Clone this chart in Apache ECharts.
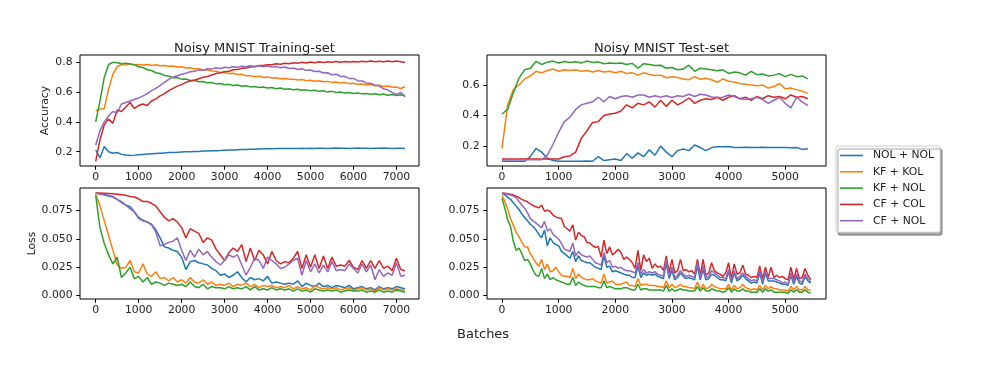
<!DOCTYPE html>
<html>
<head>
<meta charset="utf-8">
<script src="https://cdn.jsdelivr.net/npm/echarts@6/dist/echarts.min.js"></script>
<style>
  html, body { margin: 0; padding: 0; background: #fff; }
  #chart { width: 1000px; height: 375px; }
</style>
</head>
<body>
<div id="chart"></div>
<script>
const seriesNames = ['NOL + NOL', 'KF + KOL', 'KF + NOL', 'CF + COL', 'CF + NOL'];
const seriesColors = ['#1f77b4', '#ff7f0e', '#2ca02c', '#d62728', '#9467bd'];

const trainXTicks = [0, 1000, 2000, 3000, 4000, 5000, 6000, 7000];
const testXTicks = [0, 1000, 2000, 3000, 4000, 5000];
const trainAccTicks = [0.2, 0.4, 0.6, 0.8];
const testAccTicks = [0.2, 0.4, 0.6];
const lossTicks = [0, 0.025, 0.05, 0.075];

// batches, training set (every 100)
const trainBatches = [
  0, 100, 200, 300, 400, 500, 600, 700, 800, 900,
  1000, 1100, 1200, 1300, 1400, 1500, 1600, 1700, 1800, 1900,
  2000, 2100, 2200, 2300, 2400, 2500, 2600, 2700, 2800, 2900,
  3000, 3100, 3200, 3300, 3400, 3500, 3600, 3700, 3800, 3900,
  4000, 4100, 4200, 4300, 4400, 4500, 4600, 4700, 4800, 4900,
  5000, 5100, 5200, 5300, 5400, 5500, 5600, 5700, 5800, 5900,
  6000, 6100, 6200, 6300, 6400, 6500, 6600, 6700, 6800, 6900,
  7000, 7100, 7200
];

// batches, test-set accuracy (every 100)
const testAccBatches = [
  0, 100, 200, 300, 400, 500, 600, 700, 800, 900,
  1000, 1100, 1200, 1300, 1400, 1500, 1600, 1700, 1800, 1900,
  2000, 2100, 2200, 2300, 2400, 2500, 2600, 2700, 2800, 2900,
  3000, 3100, 3200, 3300, 3400, 3500, 3600, 3700, 3800, 3900,
  4000, 4100, 4200, 4300, 4400, 4500, 4600, 4700, 4800, 4900,
  5000, 5100, 5200, 5300, 5400
];

// batches, test-set loss (every 50)
const testLossBatches = [
  0, 50, 100, 150, 200, 250, 300, 350, 400, 450,
  500, 550, 600, 650, 700, 750, 800, 850, 900, 950,
  1000, 1050, 1100, 1150, 1200, 1250, 1300, 1350, 1400, 1450,
  1500, 1550, 1600, 1650, 1700, 1750, 1800, 1850, 1900, 1950,
  2000, 2050, 2100, 2150, 2200, 2250, 2300, 2350, 2400, 2450,
  2500, 2550, 2600, 2650, 2700, 2750, 2800, 2850, 2900, 2950,
  3000, 3050, 3100, 3150, 3200, 3250, 3300, 3350, 3400, 3450,
  3500, 3550, 3600, 3650, 3700, 3750, 3800, 3850, 3900, 3950,
  4000, 4050, 4100, 4150, 4200, 4250, 4300, 4350, 4400, 4450,
  4500, 4550, 4600, 4650, 4700, 4750, 4800, 4850, 4900, 4950,
  5000, 5050, 5100, 5150, 5200, 5250, 5300, 5350, 5400, 5450
];

// ---- training accuracy ----
const trainAccNOL = [
  0.21, 0.16, 0.235, 0.20, 0.19, 0.195, 0.182, 0.178, 0.175, 0.177,
  0.18, 0.182, 0.184, 0.186, 0.188, 0.19, 0.192, 0.194, 0.195, 0.196,
  0.198, 0.199, 0.2, 0.201, 0.202, 0.204, 0.205, 0.206, 0.207, 0.208,
  0.21, 0.211, 0.212, 0.213, 0.214, 0.215, 0.216, 0.217, 0.218, 0.219,
  0.22, 0.22, 0.221, 0.221, 0.222, 0.221, 0.222, 0.222, 0.223, 0.222,
  0.223, 0.222, 0.223, 0.223, 0.222, 0.223, 0.224, 0.223, 0.223, 0.222,
  0.223, 0.224, 0.223, 0.223, 0.222, 0.223, 0.223, 0.224, 0.223, 0.222,
  0.223, 0.223, 0.222
];
const trainAccKFKOL = [
  0.475, 0.485, 0.49, 0.62, 0.72, 0.77, 0.785, 0.781, 0.788, 0.784,
  0.786, 0.782, 0.785, 0.779, 0.783, 0.777, 0.779, 0.773, 0.775, 0.768,
  0.77, 0.762, 0.764, 0.756, 0.757, 0.748, 0.749, 0.741, 0.74, 0.731,
  0.732, 0.725, 0.726, 0.718, 0.719, 0.71, 0.71, 0.703, 0.706, 0.699,
  0.701, 0.695, 0.696, 0.69, 0.692, 0.686, 0.687, 0.681, 0.684, 0.677,
  0.68, 0.673, 0.676, 0.669, 0.672, 0.665, 0.667, 0.661, 0.664, 0.657,
  0.66, 0.652, 0.655, 0.648, 0.651, 0.643, 0.646, 0.638, 0.641, 0.633,
  0.634, 0.624, 0.636
];
const trainAccKFNOL = [
  0.40, 0.54, 0.70, 0.785, 0.80, 0.797, 0.79, 0.793, 0.788, 0.784,
  0.77, 0.765, 0.75, 0.745, 0.73, 0.725, 0.711, 0.708, 0.697, 0.696,
  0.687, 0.688, 0.678, 0.679, 0.67, 0.671, 0.662, 0.664, 0.655, 0.658,
  0.649, 0.652, 0.644, 0.647, 0.639, 0.643, 0.635, 0.638, 0.631, 0.634,
  0.627, 0.631, 0.623, 0.627, 0.619, 0.623, 0.615, 0.619, 0.612, 0.615,
  0.609, 0.612, 0.605, 0.609, 0.6, 0.605, 0.597, 0.601, 0.594, 0.597,
  0.59, 0.594, 0.588, 0.591, 0.585, 0.589, 0.582, 0.587, 0.579, 0.584,
  0.577, 0.582, 0.577
];
const trainAccCFCOL = [
  0.135, 0.28, 0.38, 0.42, 0.39, 0.48, 0.47, 0.50, 0.53, 0.49,
  0.51, 0.52, 0.51, 0.54, 0.555, 0.575, 0.59, 0.61, 0.625, 0.64,
  0.65, 0.665, 0.675, 0.68, 0.69, 0.70, 0.705, 0.715, 0.725, 0.73,
  0.737, 0.74, 0.75, 0.751, 0.76, 0.761, 0.769, 0.77, 0.779, 0.778,
  0.784, 0.783, 0.79, 0.787, 0.794, 0.791, 0.797, 0.794, 0.8, 0.796,
  0.802, 0.797, 0.803, 0.799, 0.804, 0.8, 0.805, 0.801, 0.806, 0.802,
  0.806, 0.802, 0.807, 0.803, 0.808, 0.803, 0.807, 0.804, 0.808, 0.804,
  0.808, 0.803, 0.798
];
const trainAccCFNOL = [
  0.245, 0.34, 0.40, 0.44, 0.47, 0.46, 0.52, 0.53, 0.54, 0.55,
  0.56, 0.575, 0.59, 0.61, 0.625, 0.645, 0.665, 0.685, 0.70, 0.71,
  0.72, 0.726, 0.737, 0.74, 0.749, 0.745, 0.757, 0.754, 0.763, 0.759,
  0.767, 0.763, 0.77, 0.766, 0.774, 0.77, 0.777, 0.772, 0.777, 0.77,
  0.775, 0.768, 0.771, 0.763, 0.768, 0.758, 0.762, 0.752, 0.757, 0.746,
  0.748, 0.738, 0.74, 0.728, 0.73, 0.716, 0.72, 0.704, 0.706, 0.692,
  0.692, 0.677, 0.675, 0.66, 0.66, 0.646, 0.642, 0.622, 0.615, 0.597,
  0.585, 0.598, 0.568
];

// ---- training loss ----
const trainLossNOL = [
  0.0906, 0.0895, 0.089, 0.088, 0.087, 0.085, 0.083, 0.080, 0.0785, 0.074,
  0.069, 0.0665, 0.065, 0.063, 0.058, 0.051, 0.043, 0.042, 0.040, 0.039,
  0.034, 0.023, 0.030, 0.031, 0.029, 0.028, 0.027, 0.024, 0.022, 0.018,
  0.019, 0.016, 0.018, 0.021, 0.016, 0.012, 0.016, 0.014, 0.015, 0.013,
  0.017, 0.011, 0.012, 0.011, 0.010, 0.011, 0.010, 0.013, 0.008, 0.011,
  0.009, 0.008, 0.011, 0.008, 0.009, 0.007, 0.009, 0.008, 0.007, 0.009,
  0.006, 0.007, 0.008, 0.006, 0.007, 0.005, 0.008, 0.006, 0.007, 0.006,
  0.008, 0.007, 0.006
];
const trainLossKFKOL = [
  0.0895, 0.079, 0.066, 0.053, 0.040, 0.027, 0.024, 0.025, 0.031, 0.021,
  0.020, 0.028, 0.019, 0.017, 0.021, 0.015, 0.016, 0.013, 0.016, 0.012,
  0.014, 0.011, 0.016, 0.012, 0.011, 0.014, 0.010, 0.012, 0.009, 0.010,
  0.009, 0.011, 0.008, 0.010, 0.009, 0.011, 0.008, 0.010, 0.007, 0.009,
  0.008, 0.009, 0.007, 0.008, 0.007, 0.009, 0.006, 0.008, 0.006, 0.007,
  0.005, 0.009, 0.007, 0.006, 0.007, 0.006, 0.007, 0.005, 0.006, 0.007,
  0.005, 0.006, 0.007, 0.005, 0.006, 0.004, 0.007, 0.005, 0.006, 0.005,
  0.006, 0.005, 0.005
];
const trainLossKFNOL = [
  0.0885, 0.060, 0.046, 0.036, 0.028, 0.034, 0.016, 0.020, 0.025, 0.015,
  0.017, 0.012, 0.016, 0.010, 0.012, 0.011, 0.009, 0.011, 0.010, 0.009,
  0.010, 0.008, 0.012, 0.008, 0.007, 0.010, 0.006, 0.008, 0.007, 0.007,
  0.006, 0.008, 0.006, 0.007, 0.006, 0.008, 0.005, 0.008, 0.005, 0.006,
  0.005, 0.007, 0.005, 0.006, 0.005, 0.006, 0.004, 0.006, 0.004, 0.005,
  0.003, 0.006, 0.005, 0.004, 0.005, 0.004, 0.005, 0.003, 0.004, 0.005,
  0.004, 0.004, 0.005, 0.003, 0.004, 0.003, 0.005, 0.003, 0.004, 0.003,
  0.005, 0.004, 0.003
];
const trainLossCFCOL = [
  0.0906, 0.0905, 0.0904, 0.0902, 0.090, 0.0895, 0.089, 0.0885, 0.0875, 0.087,
  0.0855, 0.083, 0.083, 0.0815, 0.079, 0.074, 0.069, 0.066, 0.068, 0.065,
  0.060, 0.051, 0.059, 0.057, 0.055, 0.047, 0.051, 0.049, 0.041, 0.036,
  0.031, 0.038, 0.042, 0.039, 0.045, 0.030, 0.042, 0.031, 0.040, 0.036,
  0.028, 0.039, 0.031, 0.028, 0.030, 0.029, 0.033, 0.039, 0.024, 0.036,
  0.025, 0.036, 0.024, 0.035, 0.024, 0.034, 0.026, 0.027, 0.026, 0.031,
  0.025, 0.023, 0.031, 0.024, 0.031, 0.024, 0.031, 0.024, 0.026, 0.022,
  0.033, 0.023, 0.022
];
const trainLossCFNOL = [
  0.0906, 0.090, 0.089, 0.0885, 0.0875, 0.085, 0.082, 0.080, 0.0765, 0.074,
  0.068, 0.066, 0.065, 0.0625, 0.056, 0.044, 0.045, 0.047, 0.048, 0.051,
  0.040, 0.031, 0.040, 0.034, 0.041, 0.036, 0.039, 0.034, 0.030, 0.027,
  0.031, 0.036, 0.034, 0.036, 0.027, 0.018, 0.025, 0.033, 0.031, 0.024,
  0.034, 0.031, 0.028, 0.024, 0.025, 0.028, 0.031, 0.033, 0.018, 0.031,
  0.021, 0.028, 0.020, 0.027, 0.021, 0.030, 0.022, 0.023, 0.022, 0.028,
  0.024, 0.020, 0.028, 0.021, 0.027, 0.014, 0.023, 0.017, 0.020, 0.018,
  0.029, 0.017, 0.018
];

// ---- test accuracy ----
const testAccNOL = [
  0.10, 0.10, 0.10, 0.10, 0.10, 0.13, 0.185, 0.16, 0.12, 0.105,
  0.10, 0.10, 0.10, 0.10, 0.10, 0.102, 0.10, 0.13, 0.105, 0.11,
  0.115, 0.105, 0.15, 0.12, 0.155, 0.13, 0.175, 0.14, 0.20, 0.16,
  0.13, 0.17, 0.18, 0.17, 0.207, 0.19, 0.17, 0.19, 0.195, 0.195,
  0.197, 0.19, 0.19, 0.192, 0.19, 0.19, 0.192, 0.19, 0.191, 0.19,
  0.19, 0.188, 0.19, 0.178, 0.182
];
const testAccKFKOL = [
  0.185, 0.47, 0.57, 0.60, 0.64, 0.66, 0.69, 0.68, 0.695, 0.705,
  0.69, 0.70, 0.695, 0.70, 0.69, 0.695, 0.685, 0.695, 0.685, 0.69,
  0.68, 0.69, 0.675, 0.68, 0.665, 0.68, 0.67, 0.662, 0.665, 0.648,
  0.655, 0.65, 0.64, 0.635, 0.655, 0.638, 0.645, 0.635, 0.618, 0.64,
  0.625, 0.62, 0.61, 0.605, 0.60, 0.595, 0.60, 0.58, 0.59, 0.61,
  0.575, 0.58, 0.57, 0.56, 0.545
];
const testAccKFNOL = [
  0.41, 0.44, 0.55, 0.645, 0.70, 0.71, 0.755, 0.735, 0.75, 0.757,
  0.745, 0.755, 0.748, 0.752, 0.745, 0.757, 0.748, 0.752, 0.74, 0.745,
  0.742, 0.745, 0.735, 0.742, 0.71, 0.74, 0.735, 0.728, 0.73, 0.71,
  0.715, 0.70, 0.705, 0.73, 0.69, 0.71, 0.705, 0.70, 0.693, 0.70,
  0.676, 0.685, 0.68, 0.665, 0.69, 0.668, 0.672, 0.66, 0.665, 0.675,
  0.655, 0.67, 0.655, 0.66, 0.64
];
const testAccCFCOL = [
  0.115, 0.115, 0.115, 0.115, 0.115, 0.115, 0.115, 0.115, 0.115, 0.115,
  0.115, 0.13, 0.135, 0.16, 0.25, 0.30, 0.355, 0.36, 0.40, 0.41,
  0.415, 0.43, 0.47, 0.45, 0.48, 0.47, 0.49, 0.455, 0.50, 0.46,
  0.50, 0.47, 0.49, 0.515, 0.48, 0.50, 0.51, 0.505, 0.52, 0.50,
  0.52, 0.53, 0.51, 0.52, 0.50, 0.525, 0.51, 0.53, 0.52, 0.525,
  0.51, 0.535, 0.52, 0.525, 0.51
];
const testAccCFNOL = [
  0.11, 0.11, 0.11, 0.11, 0.11, 0.11, 0.11, 0.11, 0.14, 0.21,
  0.29, 0.36, 0.39, 0.44, 0.47, 0.48, 0.49, 0.52, 0.49, 0.525,
  0.51, 0.525, 0.53, 0.52, 0.535, 0.535, 0.52, 0.53, 0.52, 0.53,
  0.518, 0.53, 0.525, 0.54, 0.525, 0.54, 0.535, 0.522, 0.518, 0.52,
  0.535, 0.525, 0.51, 0.505, 0.51, 0.52, 0.505, 0.48, 0.50, 0.52,
  0.48, 0.45, 0.52, 0.49, 0.465
];

// ---- test loss ----
const testLossNOL = [
  0.0905, 0.089, 0.087, 0.085, 0.082, 0.079, 0.076, 0.072, 0.069, 0.066,
  0.063, 0.061, 0.058, 0.054, 0.051, 0.058, 0.044, 0.051, 0.047, 0.045,
  0.044, 0.039, 0.037, 0.035, 0.033, 0.039, 0.030, 0.035, 0.031, 0.030,
  0.029, 0.029, 0.027, 0.025, 0.024, 0.023, 0.035, 0.025, 0.026, 0.021,
  0.022, 0.021, 0.020, 0.019, 0.018, 0.018, 0.016, 0.016, 0.026, 0.016,
  0.020, 0.018, 0.019, 0.018, 0.019, 0.017, 0.016, 0.015, 0.029, 0.015,
  0.022, 0.014, 0.016, 0.020, 0.017, 0.015, 0.016, 0.015, 0.014, 0.026,
  0.014, 0.023, 0.014, 0.015, 0.019, 0.018, 0.016, 0.014, 0.014, 0.013,
  0.021, 0.011, 0.020, 0.013, 0.015, 0.018, 0.015, 0.013, 0.011, 0.012,
  0.011, 0.020, 0.010, 0.020, 0.013, 0.013, 0.013, 0.012, 0.011, 0.010,
  0.010, 0.009, 0.018, 0.010, 0.017, 0.011, 0.010, 0.017, 0.013, 0.011
];
const testLossKFKOL = [
  0.089, 0.083, 0.076, 0.068, 0.062, 0.056, 0.052, 0.047, 0.043, 0.043,
  0.037, 0.033, 0.029, 0.026, 0.032, 0.023, 0.028, 0.021, 0.022, 0.025,
  0.021, 0.018, 0.017, 0.017, 0.016, 0.024, 0.015, 0.019, 0.016, 0.015,
  0.014, 0.014, 0.015, 0.013, 0.012, 0.011, 0.019, 0.011, 0.012, 0.013,
  0.010, 0.010, 0.010, 0.011, 0.012, 0.009, 0.009, 0.008, 0.015, 0.009,
  0.010, 0.010, 0.009, 0.009, 0.009, 0.008, 0.008, 0.007, 0.013, 0.007,
  0.010, 0.007, 0.008, 0.010, 0.008, 0.008, 0.007, 0.007, 0.006, 0.012,
  0.006, 0.010, 0.006, 0.007, 0.010, 0.008, 0.007, 0.006, 0.006, 0.006,
  0.010, 0.005, 0.009, 0.006, 0.007, 0.010, 0.007, 0.006, 0.005, 0.006,
  0.005, 0.009, 0.005, 0.009, 0.006, 0.008, 0.006, 0.006, 0.005, 0.005,
  0.005, 0.004, 0.008, 0.005, 0.008, 0.005, 0.005, 0.008, 0.005, 0.005
];
const testLossKFNOL = [
  0.086, 0.077, 0.067, 0.061, 0.048, 0.040, 0.042, 0.037, 0.031, 0.032,
  0.028, 0.022, 0.018, 0.017, 0.024, 0.015, 0.019, 0.014, 0.016, 0.014,
  0.013, 0.012, 0.011, 0.010, 0.010, 0.016, 0.009, 0.012, 0.010, 0.009,
  0.008, 0.008, 0.008, 0.008, 0.007, 0.007, 0.013, 0.007, 0.008, 0.007,
  0.006, 0.006, 0.006, 0.007, 0.007, 0.006, 0.005, 0.005, 0.010, 0.005,
  0.006, 0.006, 0.005, 0.005, 0.005, 0.005, 0.005, 0.004, 0.009, 0.004,
  0.006, 0.004, 0.005, 0.006, 0.005, 0.005, 0.004, 0.004, 0.004, 0.008,
  0.004, 0.007, 0.004, 0.004, 0.006, 0.005, 0.004, 0.004, 0.003, 0.004,
  0.007, 0.003, 0.006, 0.004, 0.004, 0.006, 0.004, 0.004, 0.003, 0.003,
  0.003, 0.006, 0.003, 0.006, 0.004, 0.005, 0.003, 0.003, 0.003, 0.003,
  0.003, 0.002, 0.005, 0.003, 0.005, 0.003, 0.003, 0.005, 0.003, 0.002
];
const testLossCFCOL = [
  0.0905, 0.0903, 0.090, 0.0895, 0.0888, 0.0878, 0.0865, 0.085, 0.0838, 0.0828,
  0.081, 0.0795, 0.0785, 0.0775, 0.080, 0.0745, 0.0755, 0.0745, 0.071, 0.0695,
  0.0685, 0.068, 0.061, 0.059, 0.057, 0.0625, 0.049, 0.056, 0.053, 0.052,
  0.047, 0.0465, 0.044, 0.0425, 0.0435, 0.034, 0.049, 0.037, 0.043, 0.036,
  0.038, 0.041, 0.038, 0.032, 0.034, 0.032, 0.029, 0.024, 0.040, 0.022,
  0.036, 0.030, 0.033, 0.024, 0.028, 0.025, 0.026, 0.022, 0.035, 0.020,
  0.032, 0.020, 0.022, 0.032, 0.022, 0.023, 0.021, 0.022, 0.019, 0.032,
  0.018, 0.032, 0.018, 0.020, 0.029, 0.022, 0.020, 0.019, 0.017, 0.020,
  0.029, 0.015, 0.028, 0.019, 0.020, 0.027, 0.019, 0.018, 0.016, 0.017,
  0.016, 0.026, 0.015, 0.025, 0.016, 0.025, 0.016, 0.018, 0.016, 0.017,
  0.015, 0.014, 0.025, 0.014, 0.024, 0.015, 0.016, 0.024, 0.018, 0.014
];
const testLossCFNOL = [
  0.0905, 0.090, 0.0895, 0.0888, 0.0878, 0.0865, 0.083, 0.080, 0.077, 0.073,
  0.068, 0.066, 0.064, 0.062, 0.060, 0.0655, 0.057, 0.059, 0.054, 0.052,
  0.050, 0.046, 0.041, 0.040, 0.039, 0.0465, 0.035, 0.039, 0.036, 0.035,
  0.034, 0.035, 0.032, 0.029, 0.028, 0.027, 0.038, 0.029, 0.031, 0.025,
  0.026, 0.024, 0.025, 0.023, 0.022, 0.022, 0.021, 0.020, 0.029, 0.019,
  0.023, 0.020, 0.021, 0.020, 0.021, 0.019, 0.018, 0.017, 0.032, 0.017,
  0.025, 0.016, 0.018, 0.022, 0.019, 0.017, 0.018, 0.017, 0.016, 0.029,
  0.016, 0.026, 0.016, 0.017, 0.022, 0.020, 0.018, 0.016, 0.016, 0.015,
  0.023, 0.013, 0.022, 0.015, 0.017, 0.020, 0.017, 0.015, 0.013, 0.014,
  0.013, 0.022, 0.012, 0.022, 0.015, 0.015, 0.015, 0.014, 0.013, 0.011,
  0.012, 0.010, 0.020, 0.012, 0.019, 0.013, 0.012, 0.019, 0.015, 0.012
];

const fontFamily = 'DejaVu Sans';
const textColor = '#222';

function xAxisFor(gridIndex, min, max, ticks) {
  return {
    type: 'value',
    gridIndex,
    min,
    max,
    axisLine: { show: false, onZero: false },
    splitLine: { show: false },
    axisTick: { show: true, length: 3.8, customValues: ticks, lineStyle: { color: '#000', width: 1 } },
    axisLabel: {
      customValues: ticks,
      margin: 5.5,
      color: textColor,
      fontFamily,
      fontSize: 10.8,
      formatter: v => String(v)
    }
  };
}

function yAxisFor(gridIndex, min, max, ticks, digits, name, nameGap) {
  return {
    type: 'value',
    gridIndex,
    min,
    max,
    name,
    nameLocation: 'middle',
    nameGap,
    nameTextStyle: { color: textColor, fontFamily, fontSize: 10.8 },
    axisLine: { show: false, onZero: false },
    splitLine: { show: false },
    axisTick: { show: true, length: 3.8, customValues: ticks, lineStyle: { color: '#000', width: 1 } },
    axisLabel: {
      customValues: ticks,
      margin: 7.5,
      color: textColor,
      fontFamily,
      fontSize: 10.8,
      formatter: v => v.toFixed(digits)
    }
  };
}

function lineSeries(idx, axisIdx, xs, ys) {
  return {
    type: 'line',
    name: seriesNames[idx],
    xAxisIndex: axisIdx,
    yAxisIndex: axisIdx,
    data: xs.map((x, i) => [x, ys[i]]),
    symbol: 'none',
    lineStyle: { width: 1.5, color: seriesColors[idx] },
    itemStyle: { color: seriesColors[idx] },
    animation: false
  };
}

const gridBox = { show: true, borderColor: '#000', borderWidth: 1, backgroundColor: '#fff' };

const panels = [
  { xs: trainBatches, ys: [trainAccNOL, trainAccKFKOL, trainAccKFNOL, trainAccCFCOL, trainAccCFNOL] },
  { xs: testAccBatches, ys: [testAccNOL, testAccKFKOL, testAccKFNOL, testAccCFCOL, testAccCFNOL] },
  { xs: trainBatches, ys: [trainLossNOL, trainLossKFKOL, trainLossKFNOL, trainLossCFCOL, trainLossCFNOL] },
  { xs: testLossBatches, ys: [testLossNOL, testLossKFKOL, testLossKFNOL, testLossCFCOL, testLossCFNOL] }
];

const series = [];
panels.forEach((p, axisIdx) => {
  p.ys.forEach((ys, i) => series.push(lineSeries(i, axisIdx, p.xs, ys)));
});

const chart = echarts.init(document.getElementById('chart'), null, { renderer: 'canvas' });

chart.setOption({
  backgroundColor: '#fff',
  animation: false,
  title: [
    { text: 'Noisy MNIST Training-set', left: 249.5, top: 37, textAlign: 'center',
      textStyle: { fontFamily, fontSize: 13, fontWeight: 'normal', color: textColor } },
    { text: 'Noisy MNIST Test-set', left: 656.5, top: 37, textAlign: 'center',
      textStyle: { fontFamily, fontSize: 13, fontWeight: 'normal', color: textColor } }
  ],
  grid: [
    { left: 80, width: 339, top: 55, height: 111, ...gridBox },
    { left: 487, width: 339, top: 55, height: 111, ...gridBox },
    { left: 80, width: 339, top: 188, height: 111, ...gridBox },
    { left: 487, width: 339, top: 188, height: 111, ...gridBox }
  ],
  xAxis: [
    xAxisFor(0, -365, 7525, trainXTicks),
    xAxisFor(1, -265, 5720, testXTicks),
    xAxisFor(2, -365, 7525, trainXTicks),
    xAxisFor(3, -265, 5720, testXTicks)
  ],
  yAxis: [
    yAxisFor(0, 0.104, 0.849, trainAccTicks, 1, 'Accuracy', 29),
    yAxisFor(1, 0.069, 0.797, testAccTicks, 1, '', 0),
    yAxisFor(2, -0.003, 0.095, lossTicks, 3, 'Loss', 42),
    yAxisFor(3, -0.003, 0.095, lossTicks, 3, '', 0)
  ],
  legend: {
    data: seriesNames,
    orient: 'vertical',
    left: 836,
    top: 146,
    padding: [4, 6, 6, 4],
    icon: 'rect',
    itemWidth: 23,
    itemHeight: 1.6,
    itemGap: 5.3,
    backgroundColor: '#fff',
    borderColor: '#ccc',
    borderWidth: 1,
    borderRadius: 2,
    shadowColor: 'rgba(0,0,0,0.35)',
    shadowOffsetX: 2,
    shadowOffsetY: 3,
    shadowBlur: 0,
    textStyle: { fontFamily, fontSize: 10.8, color: textColor, padding: [0, 0, 0, 5] }
  },
  graphic: [
    {
      type: 'text',
      left: 457,
      top: 328,
      style: { text: 'Batches', fontFamily, fontSize: 13, fill: textColor, textAlign: 'center' }
    }
  ],
  series
});
</script>
</body>
</html>
